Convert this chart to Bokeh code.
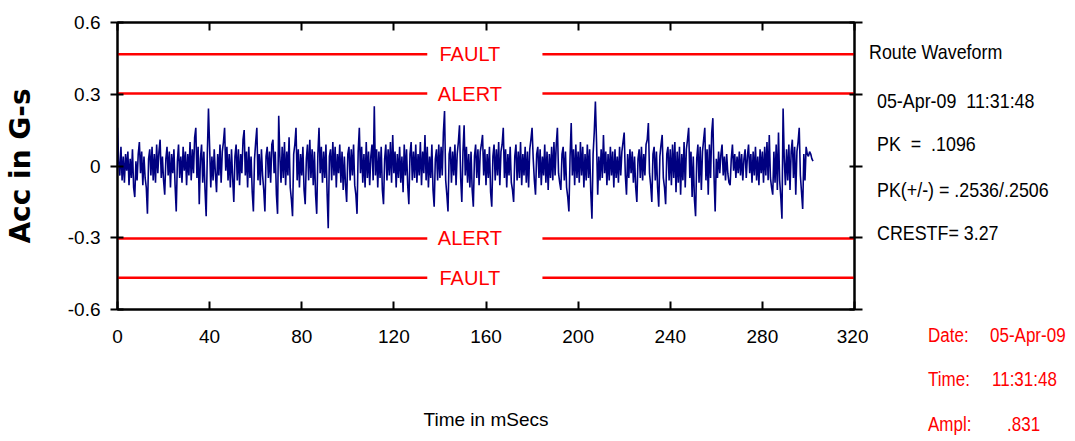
from bokeh.plotting import figure
from bokeh.layouts import row
from bokeh.models import LinearAxis, FixedTicker, Range1d, Div
from bokeh.core.properties import value
from bokeh.embed import file_html
from bokeh.resources import INLINE

FONT = "Liberation Sans"

# ---------------- data ----------------
# acceleration samples in hundredths of g, one sample every 0.5 ms
acc_centi_g = [
    16, 2, -4, 8, -6, 4, -7, 5, -2, 6, -8, 3, -5, 7, -9, -13, 2, -6, 5, 10,
    -3, 6, -8, 4, -5, -9, -20, 3, 7, -4, 8, -6, 5, -7, 9, -3, 6, 11, -5, 4,
    -6, -12, 3, 8, -4, 6, -9, 5, -3, 7, -8, -19, 2, 9, -5, 4, -7, 8, -2, 6,
    -8, 5, -4, 10, -6, 7, -3, 12, 16, -5, 8, -16, 3, 9, -7, 6, -10, -21, 5, 24,
    8, -9, 4, -6, 7, -3, -11, 5, -4, 9, -7, 6, 10, 16, -2, 8, -6, 5, -9, 7,
    -5, -15, 4, 9, -6, 7, -8, 5, -3, 11, 15, -4, 6, -9, 8, -5, 4, -11, -19, 3,
    10, 16, -6, 5, -8, 7, -4, -10, -19, 4, 8, -5, 6, -7, 9, 11, -3, 6, -12, -20,
    21, 4, -7, 8, -5, 10, -8, 6, -4, 12, -9, -14, -21, 5, 9, 16, -6, 7, -9, 5,
    -4, 8, -10, -16, 3, 9, -6, 11, -5, 7, -8, 6, -12, -20, 5, 16, -3, 8, -7, 6,
    -5, 9, -11, -26, 4, 7, -6, 10, -4, 8, -9, 5, -3, 9, -7, 6, -10, 4, -8, -15,
    5, 8, -6, 7, -4, 9, -8, -12, -20, 6, 16, -3, 8, -7, 5, -9, 10, -5, 6, -8,
    4, 9, -6, 25, -4, 7, -9, 6, -5, 8, -10, -16, 3, 9, -6, 7, -4, 10, -7, 13,
    -3, 6, -9, 5, -5, 8, -7, 4, -11, 9, -4, 7, -8, -16, 5, 10, -6, 6, -5, 9,
    -7, 5, -4, 10, -8, 6, -3, 13, -6, 8, -9, 4, -5, 9, -10, -17, 3, 7, -6, 9,
    -5, 8, -4, 14, 23, -6, -12, -19, 5, 8, -7, 6, -4, 9, -8, 5, 10, 17, -5, -15,
    6, 17, -4, 8, -7, 5, -9, 6, -10, -17, 4, 9, -5, 7, -8, 6, 9, 13, -4, 7,
    -8, 5, -5, 8, -11, -17, 4, 9, -6, 7, -4, 10, -8, 6, 9, 16, -5, 7, -9, 5,
    -4, 8, -7, -10, -15, 4, 9, -6, 6, -5, 10, -8, 5, -4, 8, -7, 6, -9, 7, 11,
    16, 3, -6, -12, 5, 8, -5, 7, -8, 4, -4, 9, -7, 6, -10, 5, -5, 8, -6, 10,
    -4, 9, 16, -3, -7, -10, 5, 8, -6, 6, -9, -13, -19, 4, 18, -4, 7, -8, 9, -5,
    6, -7, 10, -4, 8, -9, 5, -6, 9, -5, 7, -11, -22, 5, 14, 27, 10, -12, 4, -6,
    7, -5, 13, -3, 6, -8, 5, -6, 8, -4, 6, -9, 7, -5, 4, -7, 8, -4, 6, 10,
    14, -4, -12, 5, -5, 7, -3, 6, -7, 4, -9, -15, 3, 7, -5, 8, -6, 5, -4, 9,
    11, 18, -3, -8, -15, 5, 8, -6, 6, -9, -17, 4, 9, 13, -5, -9, -16, 5, 8, -6,
    7, -8, 9, -5, 10, -11, 6, -7, 8, -12, 5, -6, 10, -9, 7, 11, 16, -5, 6, -13,
    4, -14, -21, 3, 9, -7, 8, -10, 6, 11, 16, -6, 7, -12, 9, -5, 14, 20, -4, -19,
    3, -5, 6, -3, 5, 9, -4, 4, -6, 5, -3, -7, -8, 3, 9, -2, 5, -5, 4, -3,
    6, -4, 5, -6, 3, 7, -5, 4, 9, -3, 5, -7, 6, -4, 8, -6, 4, -8, 7, -3,
    6, -7, 8, -4, 10, -6, 13, -5, -9, -12, 6, -7, 9, -10, 14, -6, -13, -22, 24, 3,
    -8, 7, -6, 9, -10, 6, 11, -5, 8, -12, 6, 10, 16, -4, -11, -18, 5, -6, 8, 5,
    4, 6, 5, 3, 2,
]
sample_ms = 0.5

x_ticks = [0, 40, 80, 120, 160, 200, 240, 280, 320]
y_ticks = [0.6, 0.3, 0, -0.3, -0.6]
y_tick_labels = ["0.6", "0.3", "0", "-0.3", "-0.6"]

fault_level = 0.467
alert_level = 0.303
alarm_levels = [fault_level, alert_level, -alert_level, -fault_level]
alarm_names = ["FAULT", "ALERT", "ALERT", "FAULT"]

info_lines = ["Route Waveform", "05-Apr-09  11:31:48", "PK  =  .1096",
              "PK(+/-) = .2536/.2506", "CRESTF= 3.27"]
footer_keys = ["Date:", "Time:", "Ampl:"]
footer_vals = ["05-Apr-09", "11:31:48", ".831"]

x_label = "Time in mSecs"
y_label = "Acc in G-s"

# ---------------- derived ----------------
time_ms = [i * sample_ms for i in range(len(acc_centi_g))]
acc_g = [v / 100.0 for v in acc_centi_g]

X0, X1 = x_ticks[0], x_ticks[-1]
Y0, Y1 = y_ticks[-1], y_ticks[0]
gap_start, gap_end, label_x = 134.5, 184.5, 153.0

TOTAL_W, TOTAL_H = 1070, 438
FRAME_L, FRAME_T, FRAME_W, FRAME_H = 117, 22, 737, 287
MAIN_RIGHT = 14
main_w = FRAME_L + FRAME_W + MAIN_RIGHT

p = figure(frame_width=FRAME_W, frame_height=FRAME_H,
           min_border_left=FRAME_L, min_border_right=MAIN_RIGHT,
           min_border_top=FRAME_T,
           min_border_bottom=TOTAL_H - FRAME_T - FRAME_H,
           x_range=Range1d(X0, X1), y_range=Range1d(Y0, Y1),
           x_axis_location=None, y_axis_location=None,
           output_backend="svg", toolbar_location=None)
p.grid.visible = False
p.outline_line_color = "black"
p.outline_line_width = 2
p.border_fill_color = "white"


def mk_axis(ticks, labels=True):
    ax = LinearAxis(ticker=FixedTicker(ticks=ticks))
    ax.axis_line_color = "black"
    ax.axis_line_width = 2
    ax.major_tick_line_color = "black"
    ax.major_tick_line_width = 2
    ax.minor_tick_line_color = None
    ax.major_label_text_font = FONT
    if labels:
        ax.major_label_text_color = "black"
        ax.major_label_text_font_size = "19px"
    else:
        ax.major_label_text_color = None
        ax.major_label_text_font_size = "1px"
        ax.major_label_standoff = 0
    return ax


bottom = mk_axis(x_ticks)
bottom.major_tick_in = 8
bottom.major_tick_out = 0
bottom.major_label_standoff = 20
bottom.axis_label = x_label
bottom.axis_label_text_font = FONT
bottom.axis_label_text_font_style = "normal"
bottom.axis_label_text_font_size = "19px"
bottom.axis_label_text_color = "black"
bottom.axis_label_standoff = 63
p.add_layout(bottom, "below")

top = mk_axis(x_ticks, labels=False)
top.major_tick_in = 8
top.major_tick_out = 0
p.add_layout(top, "above")

left = mk_axis(y_ticks)
left.major_tick_in = 6
left.major_tick_out = 7
left.major_label_standoff = 10
left.major_label_overrides = {t: s for t, s in zip(y_ticks, y_tick_labels)}
left.axis_label = y_label
left.axis_label_text_font = "DejaVu Sans"
left.axis_label_text_font_style = "bold"
left.axis_label_text_font_size = "28px"
left.axis_label_text_color = "black"
left.axis_label_standoff = 28
p.add_layout(left, "left")

right = mk_axis(y_ticks, labels=False)
right.major_tick_in = 5
right.major_tick_out = 8
p.add_layout(right, "right")

# alarm lines with a gap for their names
n = len(alarm_levels)
p.segment(x0=[X0] * n + [gap_end] * n, y0=alarm_levels + alarm_levels,
          x1=[gap_start] * n + [X1] * n, y1=alarm_levels + alarm_levels,
          line_color="#ff0000", line_width=2.5)
p.text(x=[label_x] * n, y=alarm_levels, text=alarm_names,
       text_align="center", text_baseline="middle",
       text_font=value(FONT), text_font_size="20px", text_color="#ff0000")

# waveform
p.line(time_ms, acc_g, line_color="#000080", line_width=1.6)

# ---------------- side panel with the information texts ----------------
side_w = TOTAL_W - main_w


def span(text, x, y, size, color):
    return (f'<span style="position:absolute;left:{x}px;top:{y}px;'
            f'transform-origin:left center;'
            f'transform:translateY(-50%) scaleX(0.85);'
            f'font-size:{size}px;line-height:1;'
            f'color:{color};white-space:pre;">{text}</span>')


parts = []
info_x = [1, 9, 9, 9, 9]
info_y = [51, 100, 143, 189, 232]
for t, xx, yy in zip(info_lines, info_x, info_y):
    parts.append(span(t, xx, yy, 21, "#000000"))
foot_y = [335, 379, 424]
for k, v, yy, xv in zip(footer_keys, footer_vals, foot_y, [122, 124, 139]):
    parts.append(span(k, 60, yy, 20, "#ff0000"))
    parts.append(span(v, xv, yy, 20, "#ff0000"))

html = (f'<div style="position:relative;width:{side_w}px;height:{TOTAL_H}px;'
        f"font-family:'{FONT}',Arial,sans-serif;background:white;\">"
        + "".join(parts) + "</div>")
side = Div(text=html, width=side_w, height=TOTAL_H, margin=0)

layout = row(p, side)
open("out.html", "w").write(file_html(layout, INLINE))
